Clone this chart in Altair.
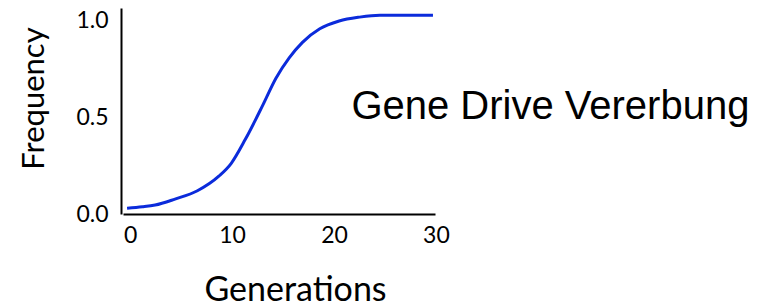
import altair as alt
import pandas as pd

# Data
generations = [0, 1.5, 2.75, 4.7, 6.9, 9.0, 10.2, 11.6, 13.3, 14.6, 15.9, 17.2, 18.9, 20.8, 22.8, 24.8, 30]
frequency = [0.03, 0.037, 0.046, 0.077, 0.12, 0.195, 0.26, 0.385, 0.56, 0.70, 0.805, 0.885, 0.955, 0.995, 1.015, 1.025, 1.025]

x_ticks = [0, 10, 20, 30]
y_ticks = [0.0, 0.5, 1.0]

annotation_text = ["Gene Drive Vererbung"]
annotation_x = [22]
annotation_y = [0.49]

df = pd.DataFrame({"Generations": generations, "Frequency": frequency})
ann = pd.DataFrame({"x": annotation_x, "y": annotation_y, "label": annotation_text})

x_scale = alt.Scale(domain=[-0.4, 30.2], nice=False, zero=False)
y_scale = alt.Scale(domain=[0, 1.062], nice=False, zero=False)

line = alt.Chart(df).mark_line(
    color="#0b2bdb", strokeWidth=3, interpolate="monotone"
).encode(
    x=alt.X(
        "Generations:Q",
        scale=x_scale,
        axis=alt.Axis(
            values=x_ticks,
            format="d",
            title="Generations",
            titleFontSize=34,
            titleFont="Lato",
            titleFontWeight="normal",
            titleColor="black",
            titleBaseline="alphabetic",
            titleAlign="center",
            titleX=172,
            titleY=86,
            labelPadding=10,
            labelOffset=3,
        ),
    ),
    y=alt.Y(
        "Frequency:Q",
        scale=y_scale,
        axis=alt.Axis(
            values=y_ticks,
            format=".1f",
            title="Frequency",
            titleFontSize=31,
            titleFont="Lato",
            titleFontWeight="normal",
            titleColor="black",
            titleAngle=270,
            titleBaseline="bottom",
            titleAlign="center",
            titleX=-71,
            titleY=90,
            labelPadding=13,
            offset=2,
        ),
    ),
)

text = alt.Chart(ann).mark_text(
    font="Liberation Sans",
    fontSize=40,
    color="black",
    align="left",
    baseline="alphabetic",
).encode(
    x=alt.X("x:Q", scale=x_scale),
    y=alt.Y("y:Q", scale=y_scale),
    text="label:N",
)

chart = (
    alt.layer(line, text)
    .properties(
        width=312,
        height=206,
        autosize=alt.AutoSizeParams(type="none"),
        padding={"left": 115, "top": 0, "right": 327, "bottom": 93},
    )
    .configure_view(stroke=None)
    .configure_axis(
        grid=False,
        ticks=False,
        domainColor="black",
        domainWidth=2,
        labelFont="Lato",
        labelFontSize=23,
        labelColor="black",
    )
)

chart.save("out.html", embed_options={"renderer": "svg", "actions": False})
